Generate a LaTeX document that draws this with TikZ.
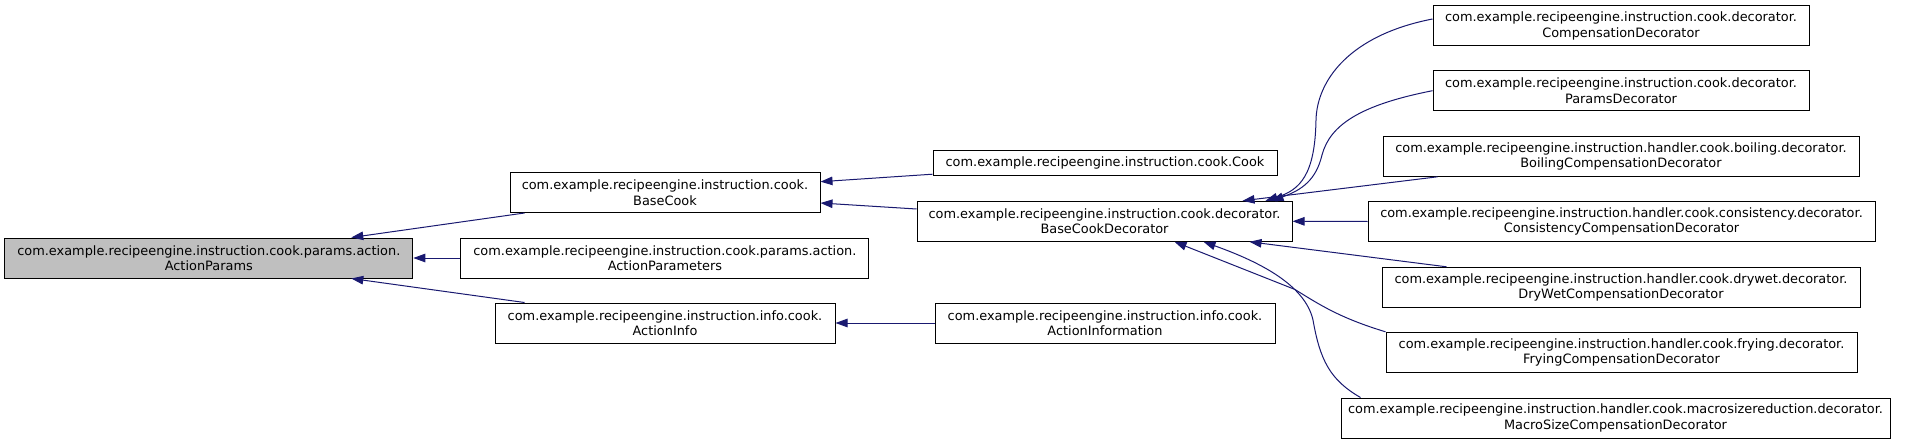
\documentclass[tikz,border=0pt]{standalone}
\usepackage{fontspec}
\setmainfont{DejaVu Sans}
\usetikzlibrary{arrows.meta,calc}
\definecolor{edgecol}{HTML}{191970}
\definecolor{basefill}{HTML}{BFBFBF}
\begin{document}
\begin{tikzpicture}[x=1pt,y=-1pt,
  cls/.style={draw=black,line width=1pt,fill=white,inner sep=0pt,align=center,
    minimum height=40pt,font=\fontsize{12.9}{15.6}\selectfont},
  edge/.style={draw=edgecol,line width=1pt,-{Triangle[length=12pt,width=8.5pt]}}]
\useasboundingbox (0,0) rectangle (1907,444);
% nodes
\node[cls,fill=basefill,minimum width=408pt] (ap) at (208.8,258) {com.example.recipeengine.instruction.cook.params.action.\\ActionParams};
\node[cls,minimum width=310pt] (bc) at (665,192.5) {com.example.recipeengine.instruction.cook.\\BaseCook};
\node[cls,minimum width=408pt] (aps) at (664.9,258) {com.example.recipeengine.instruction.cook.params.action.\\ActionParameters};
\node[cls,minimum width=340pt] (ai) at (665,323) {com.example.recipeengine.instruction.info.cook.\\ActionInfo};
\node[cls,minimum width=344pt,minimum height=25pt] (cook) at (1105,163.2) {com.example.recipeengine.instruction.cook.Cook};
\node[cls,minimum width=375pt] (bcd) at (1104.5,221.3) {com.example.recipeengine.instruction.cook.decorator.\\BaseCookDecorator};
\node[cls,minimum width=340pt] (ainf) at (1105,323) {com.example.recipeengine.instruction.info.cook.\\ActionInformation};
\node[cls,minimum width=376pt] (comp) at (1621,25.7) {com.example.recipeengine.instruction.cook.decorator.\\CompensationDecorator};
\node[cls,minimum width=376pt] (par) at (1621,90.7) {com.example.recipeengine.instruction.cook.decorator.\\ParamsDecorator};
\node[cls,minimum width=476pt] (boil) at (1621,156.3) {com.example.recipeengine.instruction.handler.cook.boiling.decorator.\\BoilingCompensationDecorator};
\node[cls,minimum width=507pt] (cons) at (1621.5,221.5) {com.example.recipeengine.instruction.handler.cook.consistency.decorator.\\ConsistencyCompensationDecorator};
\node[cls,minimum width=478pt] (dry) at (1621,287.3) {com.example.recipeengine.instruction.handler.cook.drywet.decorator.\\DryWetCompensationDecorator};
\node[cls,minimum width=471pt] (fry) at (1621.5,352.3) {com.example.recipeengine.instruction.handler.cook.frying.decorator.\\FryingCompensationDecorator};
\node[cls,minimum width=549pt] (mac) at (1615.5,418) {com.example.recipeengine.instruction.handler.cook.macrosizereduction.decorator.\\MacroSizeCompensationDecorator};
% edges
\draw[edge] ($(bc.south west)+(15,0)$) -- ($(ap.north west)+(347,0)$);
\draw[edge] (aps.west) -- (ap.east);
\draw[edge] ($(ai.north west)+(30,0)$) -- ($(ap.south west)+(347,0)$);
\draw[edge] ($(cook.south west)+(0,-2)$) -- ($(bc.east)+(0,-10.8)$);
\draw[edge] ($(bcd.west)+(0,-12.3)$) -- ($(bc.east)+(0,10.5)$);
\draw[edge] (ainf.west) -- (ai.east);
\draw[edge] ($(comp.west)+(0,-6.7)$) .. controls (1350,35) and (1317,80) .. (1316,120)
  .. controls (1315,175) and (1300,190) .. ($(bcd.north west)+(349,0)$);
\draw[edge] (par.west) .. controls (1360,105) and (1330,125) .. (1322,155)
  .. controls (1316,180) and (1302,190) .. ($(bcd.north west)+(355,0)$);
\draw[edge] ($(boil.south west)+(55,0)$) -- ($(bcd.north west)+(326,0)$);
\draw[edge] (cons.west) -- (bcd.east);
\draw[edge] ($(dry.north west)+(65,0)$) -- ($(bcd.south west)+(333,0)$);
\draw[edge] (fry.north west) .. controls (1340,318) and (1320,305) .. (1295,289.5) -- ($(bcd.south west)+(258,0)$);
\draw[edge] ($(mac.north west)+(20,0)$) .. controls (1330,380) and (1320,360) .. (1313,320)
  .. controls (1305,285) and (1260,262) .. ($(bcd.south west)+(287,0)$);
\end{tikzpicture}
\end{document}
